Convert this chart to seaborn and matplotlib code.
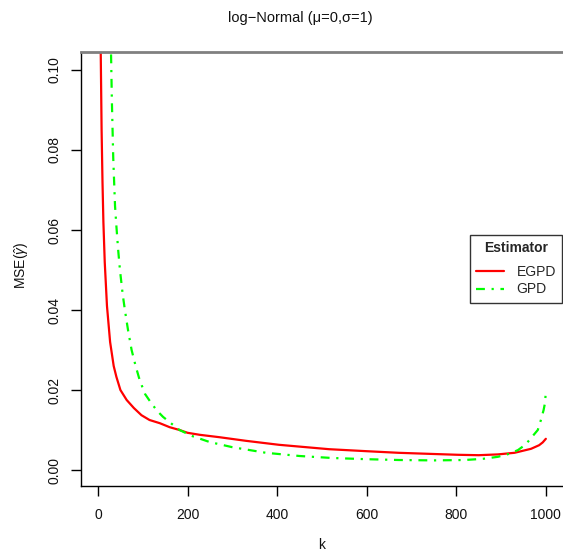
import numpy as np
import pandas as pd
import matplotlib
matplotlib.use("Agg")
import matplotlib.pyplot as plt
import seaborn as sns
from matplotlib.lines import Line2D

# ---- data ----
egpd_k = [5, 8, 10, 12, 15, 20, 27, 35, 41, 50, 64, 80, 97, 115, 138, 160, 182,
          200, 227, 271, 330, 404, 516, 600, 671, 750, 804, 850, 893, 930, 967,
          985, 993, 1000]
egpd_mse = [0.115, 0.085, 0.072, 0.062, 0.052, 0.041, 0.032, 0.026, 0.0233, 0.020,
            0.0175, 0.0155, 0.0137, 0.0125, 0.0117, 0.0107, 0.0100, 0.0093, 0.0088,
            0.0082, 0.0073, 0.0063, 0.0052, 0.0047, 0.0043, 0.0040, 0.0038, 0.0037,
            0.0039, 0.0043, 0.0053, 0.0062, 0.0069, 0.0078]

gpd_k = [27, 29, 31, 34, 38, 41, 45, 49, 55, 60, 67, 75, 84, 93, 105, 119, 132,
         145, 165, 182, 210, 249, 300, 375, 450, 523, 600, 671, 750, 819, 860,
         893, 920, 938, 955, 967, 982, 989, 995, 998, 1000]
gpd_mse = [0.11, 0.1045, 0.092, 0.078, 0.066, 0.061, 0.055, 0.050, 0.044, 0.040,
           0.035, 0.030, 0.026, 0.0225, 0.019, 0.0167, 0.0148, 0.0133, 0.0115,
           0.0100, 0.0085, 0.0070, 0.0057, 0.0043, 0.0035, 0.0030, 0.0027, 0.0025,
           0.0024, 0.0025, 0.0028, 0.0033, 0.0041, 0.0050, 0.0064, 0.0080, 0.0100,
           0.0125, 0.0150, 0.0167, 0.0195]

x_ticks = [0, 200, 400, 600, 800, 1000]
y_ticks = [0.00, 0.02, 0.04, 0.06, 0.08, 0.10]
y_tick_labels = ["0.00", "0.02", "0.04", "0.06", "0.08", "0.10"]
series_names = ["EGPD", "GPD"]
series_colors = ["#FF0000", "#00FF00"]

# ---- style ----
sns.set_theme(style="white")
plt.rcParams["font.family"] = ["Liberation Sans", "DejaVu Sans"]
plt.rcParams["mathtext.fontset"] = "custom"
plt.rcParams["mathtext.rm"] = "Liberation Sans"
plt.rcParams["mathtext.it"] = "Liberation Sans:italic"

W, H = 563, 554
fig = plt.figure(figsize=(W / 100, H / 100), dpi=100)
fig.patch.set_facecolor("white")
ax = fig.add_axes([81 / W, 1 - 486 / H, (566 - 81) / W, (486 - 52) / H])
ax.set_facecolor("white")

df_e = pd.DataFrame({"k": egpd_k, "mse": egpd_mse})
df_g = pd.DataFrame({"k": gpd_k, "mse": gpd_mse})
sns.lineplot(data=df_e, x="k", y="mse", ax=ax, color=series_colors[0],
             linewidth=1.6, sort=False, estimator=None)
sns.lineplot(data=df_g, x="k", y="mse", ax=ax, color=series_colors[1],
             linewidth=1.6, sort=False, estimator=None)
ax.lines[1].set_dashes([4, 3, 1, 3])

ax.set_xlim(-38, 1045)
ax.set_ylim(-0.004, 0.1045)
ax.set_xticks(x_ticks)
ax.set_xticklabels([str(v) for v in x_ticks], fontsize=10)
ax.set_yticks(y_ticks)
ax.set_yticklabels(y_tick_labels, fontsize=10, rotation=90, va="center")
ax.tick_params(axis="both", which="major", direction="out", length=7, width=1,
               color="black", labelcolor="#111111", bottom=True, left=True,
               top=False, right=False)
ax.tick_params(axis="x", pad=9)
ax.tick_params(axis="y", pad=7)

for s in ["left", "bottom"]:
    ax.spines[s].set_color("black")
    ax.spines[s].set_linewidth(1.0)
ax.spines["top"].set_color("#808080")
ax.spines["top"].set_linewidth(2.0)
ax.spines["right"].set_visible(False)

ax.set_xlabel("")
ax.set_ylabel("")
fig.text(322 / W, 1 - 545 / H, "k", ha="center", va="center", fontsize=10, color="#111111")
fig.text(22 / W, 1 - 265 / H, r"MSE($\hat{\gamma}$)", ha="center", va="center",
         rotation=90, fontsize=10, color="#111111")
fig.text(300 / W, 1 - 18 / H, "log\u2212Normal (\u03bc=0,\u03c3=1)", ha="center",
         va="center", fontsize=10.5, color="#111111")

handles = [Line2D([], [], color=series_colors[0], linewidth=1.6),
           Line2D([], [], color=series_colors[1], linewidth=1.6, dashes=[4, 3, 1, 3])]
leg = ax.legend(handles, series_names, title="Estimator", loc="upper left",
                bbox_to_anchor=(470 / W, 1 - 235 / H), bbox_transform=fig.transFigure,
                borderaxespad=0, fancybox=False, frameon=True, fontsize=10,
                title_fontsize=10, handlelength=2.0, labelspacing=0.25,
                borderpad=0.45, handletextpad=0.9)
leg.get_title().set_fontweight("bold")
leg.get_frame().set_edgecolor("black")
leg.get_frame().set_linewidth(1.0)
leg._legend_box.align = "center"
leg._legend_box.sep = 7

fig.savefig("out.png", dpi=100, facecolor="white")
